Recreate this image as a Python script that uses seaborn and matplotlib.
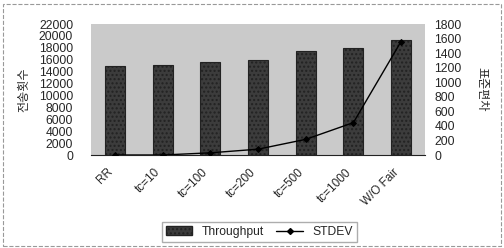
import matplotlib
matplotlib.use("Agg")
import matplotlib.pyplot as plt
import matplotlib.transforms as mtransforms
import seaborn as sns
from matplotlib.patches import Rectangle
from matplotlib.lines import Line2D

categories = ["RR", "tc=10", "tc=100", "tc=200", "tc=500", "tc=1000", "W/O Fair"]
throughput = [15000, 15100, 15600, 16000, 17400, 18000, 19400]
stdev = [0, 0, 30, 80, 215, 445, 1560]

sns.set_style("white")
plt.rcParams['font.family'] = ['Liberation Sans', 'Noto Sans CJK KR', 'DejaVu Sans']

fig = plt.figure(figsize=(5.04, 2.48), dpi=100)
ax = fig.add_axes([0.181, 0.375, 0.662, 0.528])
ax.set_facecolor("#cacaca")

sns.barplot(x=categories, y=throughput, ax=ax, color="#3c3c3c", width=0.42,
            saturation=1, edgecolor="#222222", linewidth=0.8)
for p in ax.patches:
    p.set_hatch("....")

ax.set_ylim(0, 22000)
ax.set_yticks(range(0, 22001, 2000))
ax.tick_params(axis="y", labelsize=8.7, length=0, pad=13)
ax.tick_params(axis="x", labelsize=8.5, length=0, pad=8)
offset = mtransforms.ScaledTranslation(-6 / 72, 0, fig.dpi_scale_trans)
for lbl in ax.get_xticklabels():
    lbl.set_rotation(45)
    lbl.set_ha("right")
    lbl.set_rotation_mode("anchor")
    lbl.set_transform(lbl.get_transform() + offset)
ax.set_ylabel("전송횟수", fontsize=8.7, labelpad=6)
for s in ax.spines.values():
    s.set_visible(False)
ax.spines["bottom"].set_visible(True)
ax.spines["bottom"].set_color("#222222")

ax2 = ax.twinx()
sns.pointplot(x=categories, y=stdev, ax=ax2, color="black", markers="D",
              markersize=3, linewidth=1)
ax2.set_ylim(0, 1800)
ax2.set_yticks(range(0, 1801, 200))
ax2.tick_params(axis="y", labelsize=8.7, length=0, pad=7)
ax2.set_ylabel("표준편차", fontsize=8.7, rotation=270, labelpad=18)
for s in ax2.spines.values():
    s.set_visible(False)
ax2.set_xlim(-0.5, 6.5)

handles = [Rectangle((0, 0), 1, 1, facecolor="#3c3c3c", edgecolor="#222222", hatch="...."),
           Line2D([], [], color="black", marker="D", markersize=3, linewidth=1)]
fig.legend(handles, ["Throughput", "STDEV"], loc="center", bbox_to_anchor=(0.515, 0.065),
           ncol=2, fontsize=8.7, frameon=True, edgecolor="#999999", fancybox=False,
           handlelength=2.2, columnspacing=1.0, borderpad=0.3)

fig.patches.append(Rectangle((0.005, 0.01), 0.99, 0.975, transform=fig.transFigure,
                             fill=False, edgecolor="#999999", linewidth=0.8, linestyle="--"))

fig.savefig("out.png", dpi=100)
